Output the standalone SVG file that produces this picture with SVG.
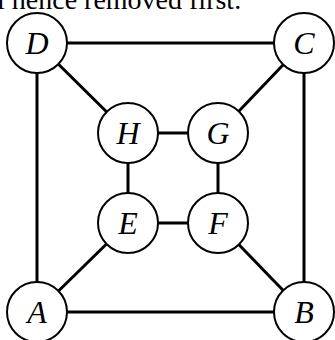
<svg xmlns="http://www.w3.org/2000/svg" width="335" height="340" viewBox="0 0 335 340">
  <style>
    .edge { stroke: #000; stroke-width: 3; fill: none; }
    .node circle { fill: #fff; stroke: #000; stroke-width: 2; }
    .node text { font-family: "Liberation Serif", "Times New Roman", serif; font-style: italic; font-size: 32px; text-anchor: middle; fill: #000; }
    .caption { font-family: "Liberation Serif", "Times New Roman", serif; font-size: 28px; fill: #000; }
  </style>
  <rect width="335" height="340" fill="#fff"/>
  <text class="caption" x="-3" y="9">l hence removed first.</text>
  <g id="edges">
    <line class="edge" x1="37" y1="43" x2="304" y2="43"/>
    <line class="edge" x1="37" y1="312" x2="304" y2="312"/>
    <line class="edge" x1="37" y1="43" x2="37" y2="312"/>
    <line class="edge" x1="304" y1="43" x2="304" y2="312"/>
    <line class="edge" x1="37" y1="43" x2="128" y2="133"/>
    <line class="edge" x1="304" y1="43" x2="218" y2="133"/>
    <line class="edge" x1="37" y1="312" x2="128" y2="223"/>
    <line class="edge" x1="304" y1="312" x2="218" y2="223"/>
    <line class="edge" x1="128" y1="133" x2="218" y2="133"/>
    <line class="edge" x1="128" y1="223" x2="218" y2="223"/>
    <line class="edge" x1="128" y1="133" x2="128" y2="223"/>
    <line class="edge" x1="218" y1="133" x2="218" y2="223"/>
  </g>
  <g id="node-D" class="node"><circle cx="37" cy="43" r="30"/><text x="37" y="54">D</text></g>
  <g id="node-C" class="node"><circle cx="304" cy="43" r="30"/><text x="304" y="54">C</text></g>
  <g id="node-A" class="node"><circle cx="37" cy="312" r="30"/><text x="37" y="323">A</text></g>
  <g id="node-B" class="node"><circle cx="304" cy="312" r="30"/><text x="304" y="323">B</text></g>
  <g id="node-H" class="node"><circle cx="128" cy="133" r="30"/><text x="128" y="144">H</text></g>
  <g id="node-G" class="node"><circle cx="218" cy="133" r="30"/><text x="218" y="144">G</text></g>
  <g id="node-E" class="node"><circle cx="128" cy="223" r="30"/><text x="128" y="234">E</text></g>
  <g id="node-F" class="node"><circle cx="218" cy="223" r="30"/><text x="218" y="234">F</text></g>
</svg>
